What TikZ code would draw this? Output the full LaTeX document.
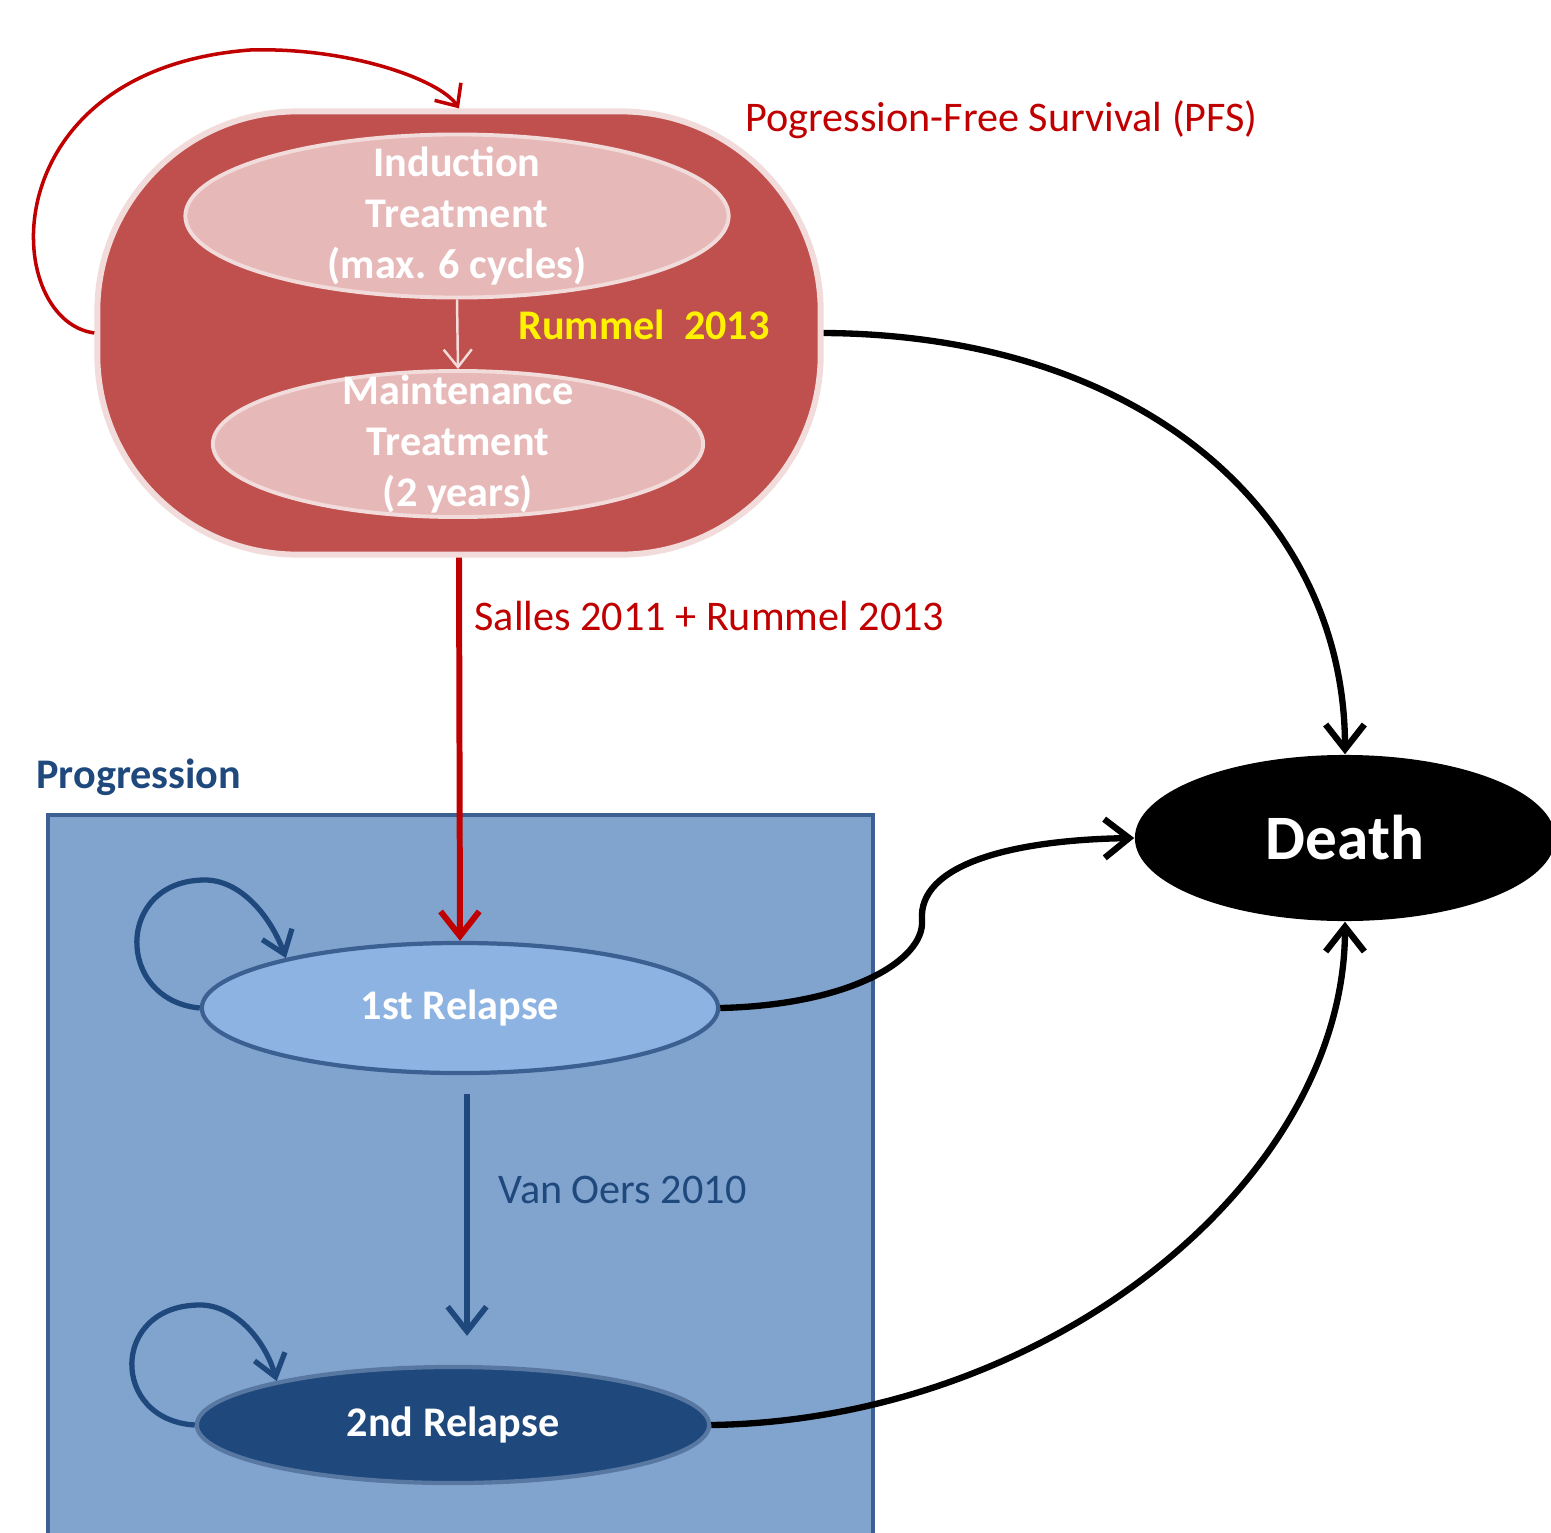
\documentclass[tikz,border=0pt]{standalone}
\usepackage{fontspec}
\setmainfont{Carlito}
\usetikzlibrary{positioning,shapes.geometric,arrows.meta}

\definecolor{pfsred}{HTML}{C0504D}
\definecolor{pfspink}{HTML}{F2DCDB}
\definecolor{treatpink}{HTML}{E6B9B8}
\definecolor{darkred}{HTML}{C00000}
\definecolor{progblue}{RGB}{129,164,207}
\definecolor{edgeblue}{RGB}{59,96,145}
\definecolor{relblue}{HTML}{8DB3E2}
\definecolor{navy}{HTML}{1F497D}

\tikzset{
  statetext/.style={font=\fontsize{12}{14.5}\selectfont\bfseries, text=white, align=center},
  treatment/.style={ellipse, draw=pfspink, line width=1.1pt, fill=treatpink},
  relapse/.style={ellipse, draw=edgeblue, line width=1.2pt, statetext},
  plaintext/.style={font=\fontsize{12}{14.5}\selectfont, anchor=west},
  barb/.style={-{Straight Barb[length=7pt,width=11pt]}},
  deathlink/.style={line width=1.8pt, barb},
  redlink/.style={draw=darkred, line width=1.7pt, barb},
  bluelink/.style={draw=navy, line width=1.6pt, barb},
  loopblue/.style={draw=navy, line width=1.5pt, -{Straight Barb[length=6pt,width=9pt]}}
}

\begin{document}
\begin{tikzpicture}[x=0.01cm, y=-0.01cm]
  \useasboundingbox (0,0) rectangle (1551,1533);

  % progression box
  \draw[fill=progblue, draw=edgeblue, line width=1.2pt] (48,815) rectangle (873,1560);
  \node[plaintext, font=\fontsize{12}{14.5}\selectfont\bfseries, text=navy] (prog) at (24,777) {Progression};

  % PFS state
  \node[rectangle, rounded corners=2cm, minimum width=7.23cm, minimum height=4.43cm,
        fill=pfsred, draw=pfspink, line width=1.7pt] (pfs) at (459,333) {};
  \node[treatment, minimum width=5.43cm, minimum height=1.63cm] (ind) at (457,216) {};
  \node[statetext] at (ind) {Induction\\Treatment\\(max. 6 cycles)};
  \node[treatment, minimum width=4.9cm, minimum height=1.46cm] (maint) at (458,444) {};
  \node[statetext] at (maint) {Maintenance\\Treatment\\(2 years)};
  \node[statetext, text=yellow] (rum) at (644,325) {Rummel\ \ 2013};
  \node[plaintext, text=darkred] (pfslbl) at (733,120) {Pogression-Free Survival (PFS)};

  \draw[pfspink, line width=0.7pt, -{Straight Barb[length=5pt,width=8pt]}] (ind.south) -- (maint.north);

  % relapses and death
  \node[relapse, fill=relblue, minimum width=5.16cm, minimum height=1.3cm] (r1) at (460,1008) {1st Relapse};
  \node[relapse, fill=navy, draw=edgeblue!85!white, minimum width=5.12cm, minimum height=1.16cm] (r2) at (453,1425) {2nd Relapse};
  \node[ellipse, fill=black, text=white, font=\fontsize{18}{20}\selectfont\bfseries,
        minimum width=4.2cm, minimum height=1.66cm] (death) at (1345,838) {Death};

  % transitions
  \draw[darkred, line width=1pt, -{Straight Barb[length=5pt,width=9pt]}]
    (pfs.west) .. controls (0,320) and (-10,70) .. (250,50) .. controls (350,47) and (440,80) .. (pfs.north);
  \draw[redlink] (pfs.south) -- (r1.north);
  \node[plaintext, text=darkred] (salles) at (462,616) {Salles 2011 + Rummel 2013};

  \draw[bluelink] ([xshift=0.07cm, yshift=-0.19cm]r1.south) -- ([xshift=0.14cm, yshift=0.29cm]r2.north);
  \node[plaintext, text=navy] (oers) at (486,1190) {Van Oers 2010};

  \draw[loopblue] (r1.west) .. controls (115,1000) and (115,880) .. (205,880)
    .. controls (240,880) and (270,915) .. (r1.164);
  \draw[loopblue] (r2.west) .. controls (110,1420) and (110,1305) .. (200,1305)
    .. controls (235,1305) and (265,1340) .. (r2.166);

  \draw[deathlink] (pfs.east) .. controls (1150,335) and (1345,520) .. (death.north);
  \draw[deathlink] (r1.east) .. controls (850,1005) and (925,960) .. (922,920)
    .. controls (918,865) and (1010,840) .. (death.west);
  \draw[deathlink] (r2.east) .. controls (1050,1420) and (1345,1180) .. (death.south);
\end{tikzpicture}
\end{document}
